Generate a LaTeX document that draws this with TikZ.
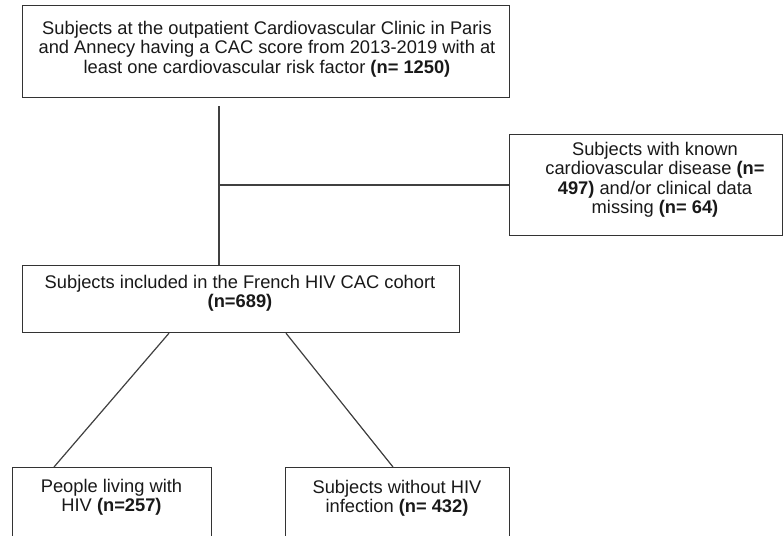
\documentclass[tikz,border=0pt]{standalone}
\usepackage{fontspec}
\setmainfont{Liberation Sans}
\usetikzlibrary{calc}
\begin{document}
\begin{tikzpicture}[x=1pt,y=-1pt,
  box/.style={draw=black!80, line width=1.2pt, rectangle, anchor=north west, inner sep=0pt},
  txt/.style={anchor=north, align=center, inner sep=0pt, font=\fontsize{18.3}{19.5}\selectfont, text=black!90},
  conn/.style={draw=black!75, line width=1.2pt}]
\useasboundingbox (0,0) rectangle (783,535);
\clip (0,0) rectangle (783,535);
\fill[white] (0,0) rectangle (783,535);
% boxes
\node[box, minimum width=487pt, minimum height=92pt] (top) at (22,5) {};
\node[box, minimum width=273pt, minimum height=101pt] (excl) at (509,134) {};
\node[box, minimum width=437pt, minimum height=67pt] (mid) at (22,265) {};
\node[box, minimum width=199pt, minimum height=80pt] (bl) at (12,467) {};
\node[box, minimum width=224pt, minimum height=80pt] (bm) at (285,467) {};
% texts
\node[txt] (toptxt) at (267,21) {Subjects at the outpatient  Cardiovascular Clinic in Paris\\and Annecy having a CAC score from 2013-2019 with at\\least one cardiovascular risk factor \textbf{(n= 1250)}};
\node[txt] (excltxt) at (655,142) {Subjects with known\\cardiovascular disease \textbf{(n=}\\\textbf{497)} and/or clinical data\\missing \textbf{(n= 64)}};
\node[txt] (midtxt) at (240,275) {Subjects included in the French HIV CAC cohort\\\textbf{(n=689)}};
\node[txt] (bltxt) at (111.5,479) {People living with\\HIV \textbf{(n=257)}};
\node[txt] (bmtxt) at (397,480) {Subjects without HIV\\infection \textbf{(n= 432)}};
% connectors
\coordinate (vstart) at (219,106);
\coordinate (branch) at (219,185);
\draw[conn] (vstart) -- (vstart |- mid.north);
\draw[conn] (branch) -- (branch -| excl.west);
\draw[conn] ([xshift=147pt]mid.south west) -- ([xshift=42pt]bl.north west);
\draw[conn] ([xshift=264pt]mid.south west) -- ([xshift=108pt]bm.north west);
\end{tikzpicture}
\end{document}
